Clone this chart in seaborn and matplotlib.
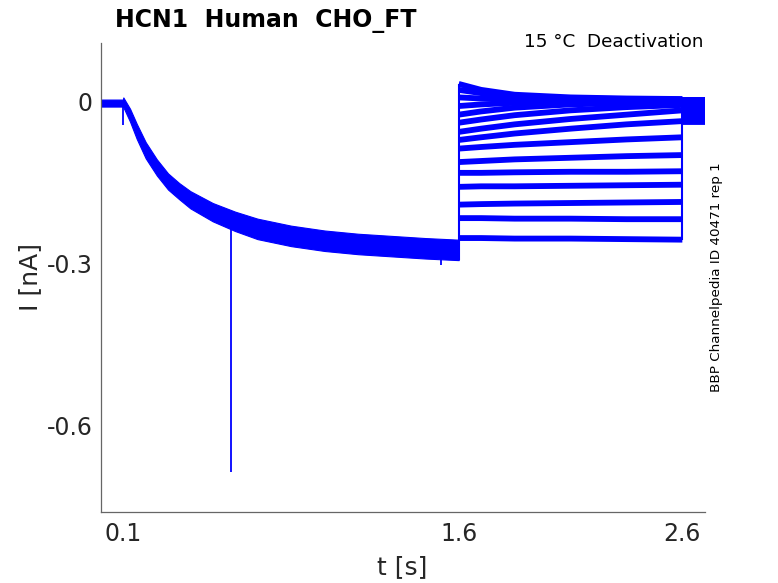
import numpy as np
import pandas as pd
import matplotlib
matplotlib.use("Agg")
import matplotlib.pyplot as plt
import seaborn as sns

# activation step (all sweeps overlap): time, upper and lower edge of the band
act_t = [0.0015, 0.098, 0.1, 0.13, 0.16, 0.2, 0.25, 0.3, 0.35, 0.4, 0.5, 0.6,
         0.7, 0.85, 1.0, 1.15, 1.3, 1.45, 1.6]
act_hi = [0.004, 0.004, 0.008, -0.013, -0.041, -0.075, -0.107, -0.133, -0.151,
          -0.166, -0.188, -0.204, -0.217, -0.230, -0.239, -0.245, -0.249, -0.253, -0.256]
act_lo = [-0.009, -0.009, -0.010, -0.037, -0.069, -0.105, -0.137, -0.163, -0.181,
          -0.198, -0.222, -0.240, -0.255, -0.268, -0.277, -0.283, -0.287, -0.291, -0.294]

# artefact spikes
spike_t = [0.097, 0.582, 1.52]
spike_top = [-0.002, -0.225, -0.275]
spike_bot = [-0.043, -0.688, -0.303]

# deactivation tails, one list per sweep at these times
tail_t = [1.6, 1.7, 1.85, 2.1, 2.35, 2.6]
tails = [
    [0.033, 0.022, 0.013, 0.008, 0.006, 0.005],
    [0.022, 0.016, 0.010, 0.006, 0.005, 0.004],
    [0.008, 0.006, 0.004, 0.003, 0.003, 0.003],
    [-0.008, -0.005, -0.002, 0.000, 0.001, 0.001],
    [-0.024, -0.018, -0.011, -0.005, -0.002, -0.001],
    [-0.039, -0.033, -0.025, -0.016, -0.010, -0.006],
    [-0.056, -0.050, -0.042, -0.032, -0.024, -0.016],
    [-0.071, -0.066, -0.059, -0.050, -0.042, -0.036],
    [-0.087, -0.084, -0.080, -0.075, -0.070, -0.066],
    [-0.112, -0.110, -0.107, -0.104, -0.101, -0.099],
    [-0.132, -0.132, -0.131, -0.130, -0.130, -0.129],
    [-0.158, -0.157, -0.157, -0.156, -0.155, -0.154],
    [-0.191, -0.190, -0.189, -0.188, -0.187, -0.186],
    [-0.216, -0.216, -0.217, -0.217, -0.218, -0.218],
    [-0.253, -0.253, -0.254, -0.254, -0.255, -0.256],
]

# back at holding potential after the tail step
post_t = [2.6, 2.7]
post_level = [0.004, 0.003, 0.001, -0.001, -0.004, -0.007, -0.010, -0.013,
              -0.016, -0.019, -0.022, -0.026, -0.029, -0.033, -0.037]

x_ticks = [0.1, 1.6, 2.6]
y_ticks = [0, -0.3, -0.6]
y_tick_labels = ["0", "-0.3", "-0.6"]

# build long tables for seaborn
tail_rows = []
for i, sweep in enumerate(tails):
    for t, v in zip(tail_t, sweep):
        tail_rows.append({"t": t, "I": v, "sweep": i})
tail_df = pd.DataFrame(tail_rows)

post_rows = []
for i, v in enumerate(post_level):
    for t in post_t:
        post_rows.append({"t": t, "I": v, "sweep": i})
post_df = pd.DataFrame(post_rows)

sns.set_style("white")
plt.rcParams["axes.unicode_minus"] = False
plt.rcParams["font.family"] = ["DejaVu Sans"]

fig = plt.figure(figsize=(7.78, 5.83), dpi=100)
ax = fig.add_axes([0.1302, 0.1218, 0.7756, 0.8039])

blue = "#0000ff"

# activation band
ax.fill_between(act_t, act_lo, act_hi, color=blue, lw=0.8, edgecolor=blue)
ax.vlines(spike_t, spike_bot, spike_top, color=blue, lw=1.3)

# step connectors
all_start = [s[0] for s in tails]
all_end = [s[-1] for s in tails]
ax.vlines(tail_t[0], min(act_lo[-1], min(all_start)), max(all_start), color=blue, lw=1.5)
ax.vlines(tail_t[-1], min(all_end), max(post_level), color=blue, lw=1.5)

# tails and post segments
sns.lineplot(data=tail_df, x="t", y="I", units="sweep", estimator=None,
             color=blue, lw=4.2, ax=ax, legend=False)
sns.lineplot(data=post_df, x="t", y="I", units="sweep", estimator=None,
             color=blue, lw=4.2, ax=ax, legend=False)
for ln in ax.get_lines():
    ln.set_solid_capstyle("butt")

ax.set_xlim(0.0015, 2.7)
ax.set_ylim(-0.7614, 0.1084)
ax.set_xticks(x_ticks)
ax.set_xticklabels([str(v) for v in x_ticks])
ax.set_yticks(y_ticks)
ax.set_yticklabels(y_tick_labels)
ax.set_xlabel("")
ax.set_ylabel("")

grey = "#666666"
for side in ["top", "right"]:
    ax.spines[side].set_visible(False)
for side in ["left", "bottom"]:
    ax.spines[side].set_color(grey)
    ax.spines[side].set_linewidth(0.9)
ax.tick_params(direction="in", length=4.5, width=0.8, color=grey,
               labelsize=17, labelcolor="#262626", pad=7)
ax.tick_params(axis="y", pad=6)

fig.text(0.148, 0.9537, "HCN1  Human  CHO_FT", fontsize=17, fontweight="bold",
         color="black", ha="left", va="baseline")
fig.text(0.9036, 0.920, "15 °C  Deactivation", fontsize=13.2,
         color="black", ha="right", va="baseline")
fig.text(0.9215, 0.524, "BBP Channelpedia ID 40471 rep 1", fontsize=9.7,
         rotation=90, ha="center", va="center", color="black")
fig.text(0.0386, 0.525, "I [nA]", fontsize=18, rotation=90,
         ha="center", va="center", color="#262626")
fig.text(0.517, 0.0274, "t [s]", fontsize=18,
         ha="center", va="center", color="#262626")

fig.savefig("out.png", dpi=100)
